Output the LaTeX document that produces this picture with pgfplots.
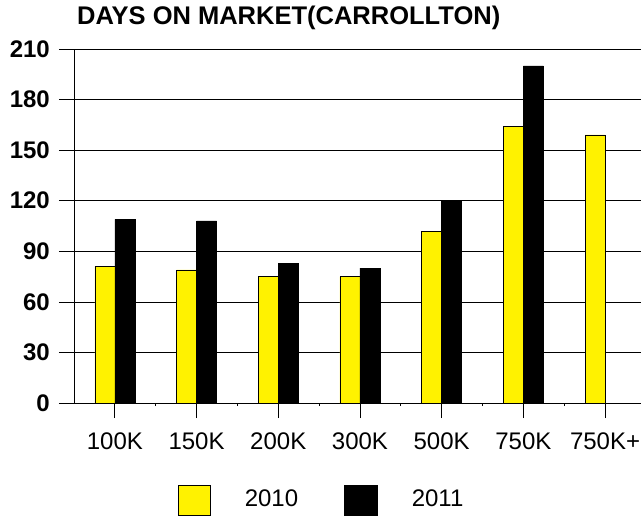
\documentclass[border=0pt]{standalone}
\usepackage{fontspec}
\setmainfont{Liberation Sans}
\usepackage{pgfplots}
\pgfplotsset{compat=1.18}
\begin{document}
\begin{tikzpicture}
\fontsize{24bp}{28bp}\selectfont
\begin{axis}[
  name=ax,
  scale only axis,
  width=567bp, height=354bp,
  xmin=-0.5, xmax=6.44,
  ymin=0, ymax=210,
  ytick={0,30,...,210},
  xtick={0,1,2,3,4,5,6},
  xticklabels={100K,150K,200K,300K,500K,750K,750K+},
  minor xtick={0.5,1.5,2.5,3.5,4.5,5.5},
  minor tick length=3bp,
  major tick length=15bp,
  tick align=outside,
  tick style={black, line width=0.7bp},
  axis x line*=bottom,
  axis y line*=left,
  axis line style={black, line width=0.8bp, -},
  ymajorgrids,
  grid style={black, line width=0.7bp},
  /pgf/number format/assume math mode=true,
  ticklabel style={font=\fontsize{24bp}{28bp}\selectfont},
  yticklabel style={font=\fontsize{24bp}{28bp}\selectfont\bfseries, xshift=-1bp},
  xticklabel style={yshift=-7bp},
  ybar=0pt,
  bar width=20bp,
  legend columns=2,
  legend style={at={(0.1834,-0.274)}, anchor=west, draw=none, fill=none,
    inner sep=0pt, font=\fontsize{24bp}{28bp}\selectfont,
    /tikz/every odd column/.append style={column sep=32bp},
    /tikz/every even column/.append style={column sep=44bp}},
  legend cell align=left,
]
\addplot[fill=yellow, draw=black, line width=0.6bp,
  legend image code/.code={\draw[fill=yellow, draw=black, line width=0.6bp] (0bp,-15bp) rectangle (32bp,15bp);}]
  coordinates {(0,81) (1,79) (2,75) (3,75) (4,102) (5,164) (6,159)};
\addlegendentry{2010}
\addplot[fill=black, draw=black, line width=0.6bp,
  legend image code/.code={\draw[fill=black, draw=black, line width=0.6bp] (0bp,-15bp) rectangle (33bp,15bp);}]
  coordinates {(0,109) (1,108) (2,83) (3,80) (4,120) (5,200)};
\addlegendentry{2011}
\end{axis}
\node[anchor=base west, inner sep=0pt, font=\fontsize{25.5bp}{30bp}\selectfont\bfseries]
  at ([xshift=3bp,yshift=24bp]ax.north west) {DAYS ON MARKET(CARROLLTON)};
\pgfresetboundingbox
\path[use as bounding box] ([shift={(-74bp,-113bp)}]ax.south west) rectangle ([shift={(0bp,49bp)}]ax.north east);
\end{tikzpicture}
\end{document}
